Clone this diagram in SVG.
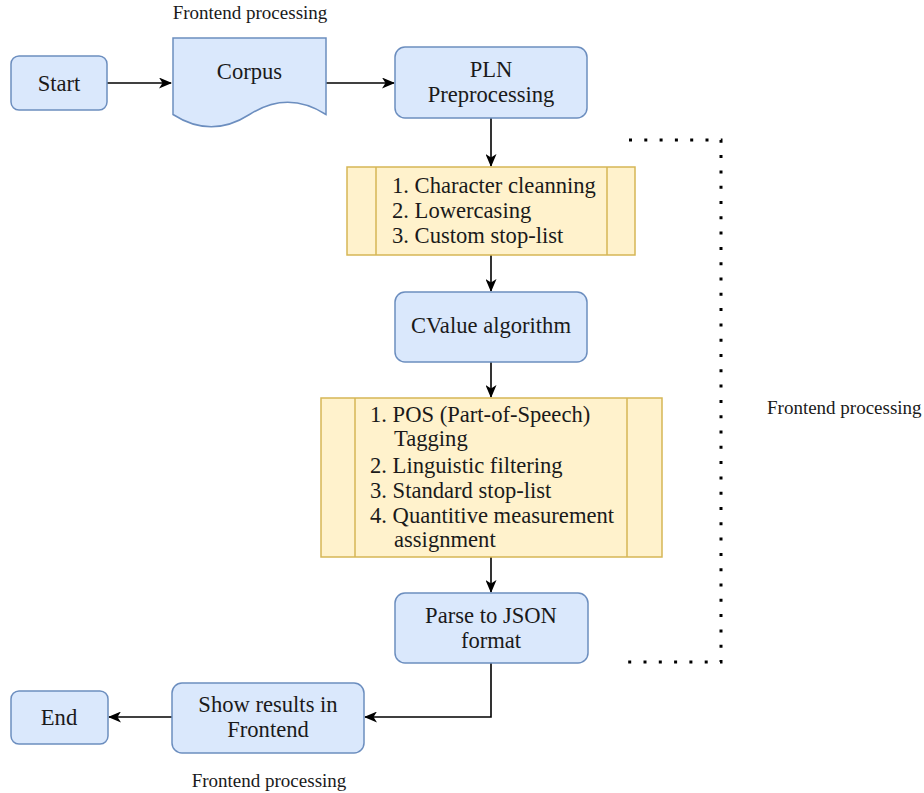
<svg xmlns="http://www.w3.org/2000/svg" width="924" height="793" viewBox="0 0 924 793">
<style>
text{font-family:"Liberation Serif","Times New Roman",serif;fill:#1a1a1a}
.blue{fill:#dae8fc;stroke:#6c8ebf;stroke-width:1.5}
.yel{fill:#fff2cc;stroke:#d6b656;stroke-width:1.5}
.nt{font-size:22.6px}
.c{text-anchor:middle}
.lbl{font-size:19px}
.edge{fill:none;stroke:#000;stroke-width:1.6}
</style>
<defs>
<marker id="arr" viewBox="0 0 13 11" refX="12" refY="5.5" markerWidth="13" markerHeight="11" markerUnits="userSpaceOnUse" orient="auto">
<path d="M0,0 L13,5.5 L0,11 L3.5,5.5 z" fill="#000"/>
</marker>
</defs>
<rect width="924" height="793" fill="#fff"/>
<g id="connectors">
<path class="edge" d="M107,83 H171" marker-end="url(#arr)"/>
<path class="edge" d="M326,83 H394" marker-end="url(#arr)"/>
<path class="edge" d="M491,118 V166" marker-end="url(#arr)"/>
<path class="edge" d="M491,255 V291" marker-end="url(#arr)"/>
<path class="edge" d="M491,362 V397" marker-end="url(#arr)"/>
<path class="edge" d="M491,557 V592" marker-end="url(#arr)"/>
<path class="edge" d="M491,663 V717 H365" marker-end="url(#arr)"/>
<path class="edge" d="M172,717 H109" marker-end="url(#arr)"/>
<path d="M629,140 H721 V662 H628" fill="none" stroke="#000" stroke-width="3" stroke-dasharray="3 12.3"/>
</g>
<g id="label-top"><text class="lbl c" x="250" y="19">Frontend processing</text></g>
<g id="label-right"><text class="lbl" x="767" y="414">Frontend processing</text></g>
<g id="label-bottom"><text class="lbl c" x="269" y="787">Frontend processing</text></g>
<g id="start">
<rect class="blue" x="11" y="56" width="96" height="54" rx="8"/>
<text class="nt c" x="59" y="91">Start</text>
</g>
<g id="corpus">
<path class="blue" d="M173,38 H326 V114.5 Q287.75,90 249.5,114.5 Q211.25,139 173,114.5 Z"/>
<text class="nt c" x="249.5" y="79">Corpus</text>
</g>
<g id="pln">
<rect class="blue" x="395" y="47" width="192" height="71" rx="10"/>
<text class="nt c" x="491" y="77">PLN</text>
<text class="nt c" x="491" y="102">Preprocessing</text>
</g>
<g id="cleaning">
<rect class="yel" x="347" y="167" width="288" height="88"/>
<line class="yel" x1="376" y1="167" x2="376" y2="255"/>
<line class="yel" x1="607" y1="167" x2="607" y2="255"/>
<text class="nt" x="392" y="193">1. Character cleanning</text>
<text class="nt" x="392" y="218">2. Lowercasing</text>
<text class="nt" x="392" y="243">3. Custom stop-list</text>
</g>
<g id="cvalue">
<rect class="blue" x="395" y="292" width="192" height="70" rx="10"/>
<text class="nt c" x="491" y="333">CValue algorithm</text>
</g>
<g id="steps">
<rect class="yel" x="321" y="398" width="341" height="159"/>
<line class="yel" x1="355" y1="398" x2="355" y2="557"/>
<line class="yel" x1="627" y1="398" x2="627" y2="557"/>
<text class="nt" x="370" y="422">1. POS (Part-of-Speech)</text>
<text class="nt" x="394" y="446">Tagging</text>
<text class="nt" x="370" y="473">2. Linguistic filtering</text>
<text class="nt" x="370" y="498">3. Standard stop-list</text>
<text class="nt" x="370" y="523">4. Quantitive measurement</text>
<text class="nt" x="394" y="547">assignment</text>
</g>
<g id="parse">
<rect class="blue" x="395" y="593" width="193" height="70" rx="10"/>
<text class="nt c" x="491" y="623">Parse to JSON</text>
<text class="nt c" x="491" y="648">format</text>
</g>
<g id="show">
<rect class="blue" x="172" y="683" width="192" height="70" rx="10"/>
<text class="nt c" x="268" y="712">Show results in</text>
<text class="nt c" x="268" y="737">Frontend</text>
</g>
<g id="end">
<rect class="blue" x="11" y="691" width="97" height="53" rx="8"/>
<text class="nt c" x="59" y="725">End</text>
</g>
</svg>
